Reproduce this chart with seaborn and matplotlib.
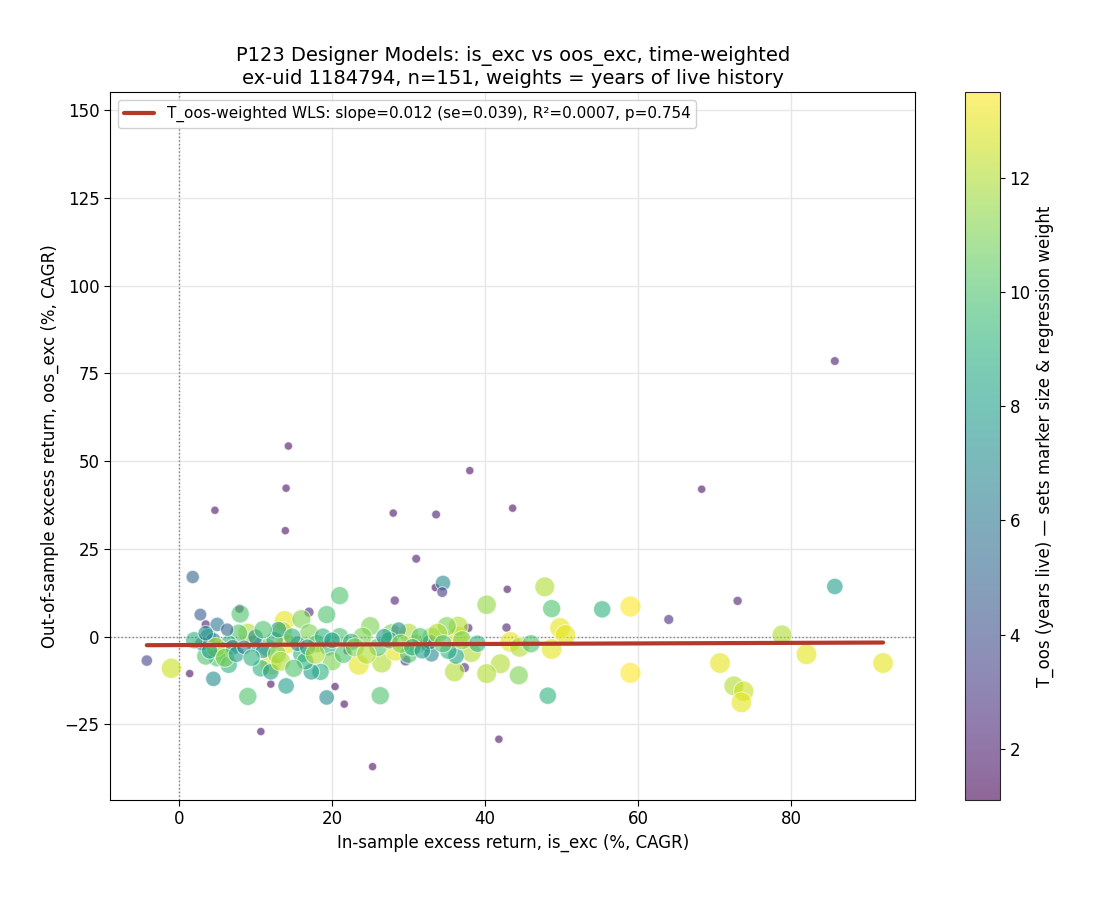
import numpy as np
import pandas as pd
import matplotlib
matplotlib.use('Agg')
import matplotlib.pyplot as plt
import seaborn as sns

# (is_exc, oos_exc, T_oos)
is_exc = [85.7, 14.3, 14, 38, 68.3, 4.7, 13.9, 28, 33.6, 43.6, 31, 33.5, 28.2, 42.9, 73, 64, 42.8, 37.8,
          25.3, 10.7, 41.8, 21.6, 20.4, 22, 1.4, 12, -4.2, 3.5, 1.8, 2.8, 34.5, 34.4, 85.7, 7.9, 17, 29.6, 37.3,
          -1, 59, 59, 47.8, 40.2, 49.8, 50.5, 48.7, 42, 43.3, 44.5, 44.4, 40.2, 36, 36.5, 36.5, 35, 38.2,
          70.7, 72.5, 73.8, 73.5, 78.8, 82, 92, 55.3, 48.7, 48.2, 23.5, 26.5, 26.3, 25, 21, 19.3, 24, 27.8,
          30, 31, 28.3, 30, 32.5, 33, 13.8, 13.5, 14, 12, 16, 17, 18, 19.5, 20, 18.5, 17.3, 16, 14, 19.3, 9,
          8, 4.5, 10.7, 12, 11.5, 9.8, 9, 7.8, 6.5, 5.5, 5, 6.5, 3.5, 3.8, 4.5, 5, 3, 6.3, 7, 4.8, 12.5, 13,
          11, 16.5, 15.5, 21, 22.5, 26, 28.7, 27.5, 36.2, 35.2, 33, 32.8, 31.5,
          2, 3.5, 4, 6, 7.5, 8.5, 9.5, 10, 11, 12.8, 13.3, 14.8, 15, 16.8, 17.8, 18.8, 20, 21.5, 23, 24.5,
          26.8, 29, 30.5, 31.8, 33.8, 34.5, 37, 39, 46]
oos_exc = [78.5, 54.3, 42.3, 47.3, 42, 36, 30.2, 35.2, 34.8, 36.6, 22.2, 14, 10.3, 13.5, 10.2, 4.9, 2.6, 2.5,
           -37, -27, -29.2, -19.2, -14.2, -4, -10.5, -13.5, -6.8, 3.5, 17, 6.3, 15.3, 12.7, 14.3, 8, 7, -6.8, -8.8,
           -9, 8.6, -10.3, 14.2, 9.1, 2.5, 0.5, -3.5, -7.7, -1.5, -3, -11, -10.5, -10, 0, 3, 3, -4.5,
           -7.5, -14, -15.5, -18.7, 0.5, -5, -7.5, 7.8, 8, -16.8, -8, -7.5, -16.8, 3, 11.7, 6.3, 0, 1,
           1, -2, -4, -5, -2, -5, 4.5, 1.5, -2, -8, 5, 1, -2, -3, -7, -10, -10, -5, -14, -17.3, -17,
           6.5, -12, -9, -10, -3, -1.8, 1, 1, -2, -4, -6, -8, -5.5, 0, -1, 3.5, -2, 2, -3, -3, -1, 2,
           -4, -7, -2, 0, -1.5, -3, 2, -1, -5.5, -4, 0, -1.5, 0,
           -1, 1, -4, -6, -5, -3, -6, 0, 2, -5, -7, 0, -9, -3, -5, 0, -1, -5, -3, -5,
           0, -2, -3, -4, 1, -2, -1, -2, -2]
t_oos = [1.8, 1.5, 1.5, 1.5, 1.5, 1.5, 1.5, 1.5, 1.8, 1.5, 1.8, 1.5, 2, 1.5, 2, 2.5, 2, 2,
         1.5, 1.5, 1.5, 1.5, 1.5, 1.5, 1.5, 1.5, 3.5, 2, 5, 4.5, 7, 3, 8, 2, 2.5, 3, 2.5,
         12.5, 13.5, 13.5, 12, 11.5, 13, 13, 13, 12, 13, 12, 11, 12, 12, 13, 12, 11, 12,
         13, 12, 12.5, 13, 12, 13, 13, 9, 10, 9, 13, 12, 10, 11, 10, 10, 11, 11,
         12, 12, 13, 10, 8, 7, 13, 12, 13, 13, 11, 11, 10, 9, 11, 9, 8, 9, 8, 7, 10,
         10, 7, 9, 8, 10, 8, 12, 10, 9, 11, 10, 9, 10, 8, 7, 6, 6, 5, 7, 12, 9, 8,
         7, 9, 7, 10, 9, 10, 7, 9, 8, 9, 11, 7, 10,
         9, 7, 8, 11, 8, 6, 9, 7, 10, 11, 12, 9, 10, 8, 12, 9, 8, 10, 11, 12,
         8, 11, 9, 8, 12, 10, 11, 9, 10]

fit_label = 'T_oos-weighted WLS: slope=0.012 (se=0.039), R²=0.0007, p=0.754'

df = pd.DataFrame({'is_exc': is_exc, 'oos_exc': oos_exc, 'T': t_oos})
df['size'] = 12 + 16 * df['T']

sns.set_style('white')
plt.rcParams.update({'text.color': 'black', 'axes.labelcolor': 'black',
                     'xtick.color': 'black', 'ytick.color': 'black'})
fig = plt.figure(figsize=(11.12, 9.06), dpi=100)
ax = fig.add_axes([0.099, 0.117, 0.724, 0.781])
cax = fig.add_axes([0.868, 0.117, 0.031, 0.781])

norm = plt.Normalize(1.1, 13.5)
sc = ax.scatter(df['is_exc'], df['oos_exc'], c=df['T'], cmap='viridis', norm=norm,
                s=df['size'], alpha=0.6, edgecolors='white', linewidths=0.8, zorder=3)

# weighted least squares line
w = df['T'].values
X = np.column_stack([np.ones(len(df)), df['is_exc'].values])
W = np.diag(w)
beta = np.linalg.solve(X.T @ W @ X, X.T @ W @ df['oos_exc'].values)
xs = np.array([df['is_exc'].min(), df['is_exc'].max()])
ax.plot(xs, beta[0] + beta[1] * xs, color='#b5392b', lw=3, label=fit_label, zorder=4)

ax.axhline(0, color='gray', ls=':', lw=1, zorder=1)
ax.axvline(0, color='gray', ls=':', lw=1, zorder=1)
ax.grid(True, color='#e6e6e6', lw=1)
ax.set_axisbelow(True)
for s in ax.spines.values():
    s.set_color('black')
ax.set_xlim(-9.0, 96.2)
ax.set_ylim(-46.5, 155)
ax.set_xticks([0, 20, 40, 60, 80])
ax.set_yticks([-25, 0, 25, 50, 75, 100, 125, 150])
ax.tick_params(labelsize=12, direction='out', length=4, left=True, bottom=True)
ax.set_xlabel('In-sample excess return, is_exc (%, CAGR)', fontsize=12)
ax.set_ylabel('Out-of-sample excess return, oos_exc (%, CAGR)', fontsize=12)
ax.set_title('P123 Designer Models: is_exc vs oos_exc, time-weighted\n'
             'ex-uid 1184794, n=151, weights = years of live history', fontsize=14)
ax.legend(loc='upper left', fontsize=11, framealpha=0.9)

cb = fig.colorbar(sc, cax=cax)
cb.solids.set_alpha(0.6)
cb.set_label('T_oos (years live) — sets marker size & regression weight', fontsize=12)
cb.ax.tick_params(labelsize=12)

plt.savefig('out.png', dpi=100)
